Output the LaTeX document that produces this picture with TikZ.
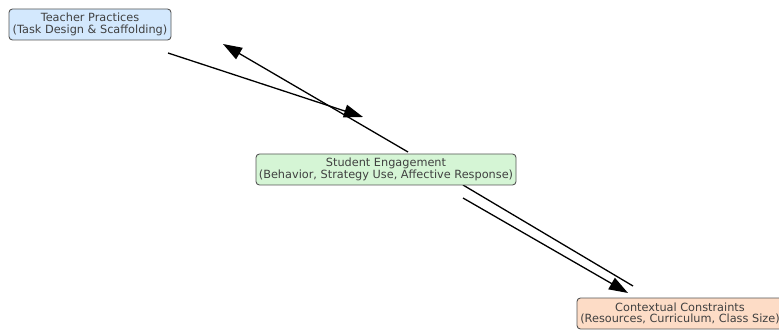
\documentclass[tikz,border=0pt]{standalone}
\usepackage{fontspec}
\setmainfont{DejaVu Sans}
\usetikzlibrary{arrows.meta}
\definecolor{tblue}{HTML}{D3E8FD}
\definecolor{sgreen}{HTML}{D5F5D5}
\definecolor{cpeach}{HTML}{FDDCC6}
\definecolor{edgegray}{HTML}{555555}
\definecolor{txtgray}{HTML}{404040}
\tikzset{
  box/.style={draw=edgegray, line width=0.9pt, rounded corners=3.5pt, align=center,
    text=txtgray, font=\fontsize{11.3}{11.8}\selectfont, minimum height=31pt, inner sep=0pt},
  conn/.style={line width=1.3pt, black},
  head/.style={-{Triangle[length=19pt,width=13pt]}}
}
\begin{document}
\begin{tikzpicture}[x=1pt,y=-1pt]
\useasboundingbox (0,0) rectangle (779,331);
\coordinate (a1s) at (168,53);
\coordinate (a1e) at (363,117);
\coordinate (a2s) at (408,152);
\coordinate (a2e) at (223,44);
\coordinate (a3s) at (463,198);
\coordinate (a3e) at (628,293);
\coordinate (a4s) at (633,286);
\coordinate (a4e) at (463,185);
\draw[conn,head] (a1s) -- (a1e);
\draw[conn,head] (a2s) -- (a2e);
\draw[conn,head] (a3s) -- (a3e);
\draw[conn] (a4s) -- (a4e);
\node[box, fill=tblue, minimum width=162pt] (teacher) at (90,24.5) {Teacher Practices\\(Task Design \& Scaffolding)};
\node[box, fill=sgreen, minimum width=260pt] (student) at (386,169.5) {Student Engagement\\(Behavior, Strategy Use, Affective Response)};
\node[box, fill=cpeach, minimum width=206pt] (context) at (680,313.5) {Contextual Constraints\\(Resources, Curriculum, Class Size)};
\end{tikzpicture}
\end{document}
